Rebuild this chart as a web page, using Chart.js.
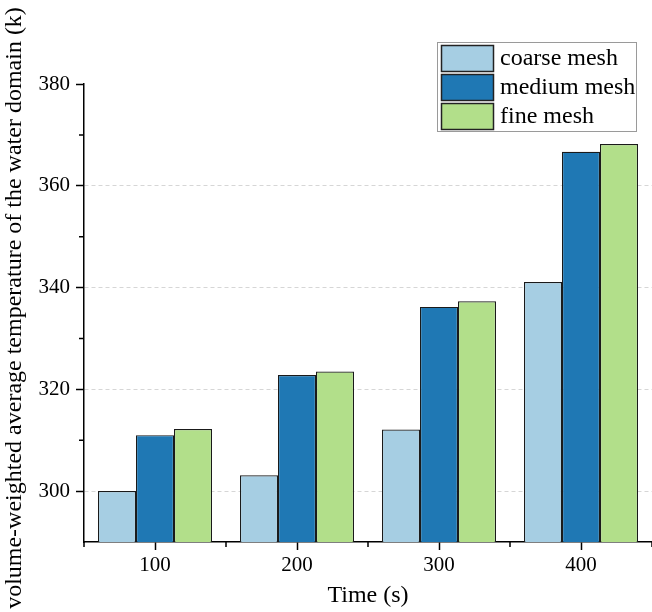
<!DOCTYPE html>
<html>
<head>
<meta charset="utf-8">
<script src="https://cdn.jsdelivr.net/npm/chart.js@4.4.1/dist/chart.umd.min.js"></script>
<style>
    html, body { margin: 0; padding: 0; background: #fff; }
</style>
</head>
<body>
<canvas id="myChart" width="652" height="612"></canvas>
<script>
// Datos
const categories = ['100', '200', '300', '400'];
const seriesNames = ['coarse mesh', 'medium mesh', 'fine mesh'];
const coarseMesh = [300.0, 303.1, 312.1, 341.1];
const mediumMesh = [311.0, 322.8, 336.2, 366.7];
const fineMesh = [312.2, 323.5, 337.3, 368.2];
const seriesColors = ['#a6cee3', '#1f78b4', '#b2df8a'];
const yMin = 290;
const yMax = 380;
const yStep = 20;
const xTitle = 'Time (s)';
const yTitle = 'volume-weighted average temperature of the water domain (k)';

const serif = '"Liberation Serif", "Times New Roman", serif';
Chart.defaults.font.family = serif;
Chart.defaults.color = '#000';

// Marcas menores en los dos ejes
const minorTicks = {
    id: 'minorTicks',
    afterDraw(chart) {
        const ctx = chart.ctx;
        const x = chart.scales.x;
        const y = chart.scales.y;
        ctx.save();
        ctx.strokeStyle = '#000';
        ctx.lineWidth = 1.5;
        ctx.beginPath();
        y.ticks.forEach(t => {
            const v = t.value - yStep / 2;
            if (v <= y.min) return;
            const py = y.getPixelForValue(v);
            ctx.moveTo(y.right - 5, py);
            ctx.lineTo(y.right, py);
        });
        for (let i = 0; i <= categories.length; i++) {
            const px = x.getPixelForValue(i - 0.5);
            ctx.moveTo(px, x.top);
            ctx.lineTo(px, x.top + 5);
        }
        ctx.stroke();
        ctx.restore();
    }
};

// Título del eje Y (sin maxWidth de Chart.js)
const yAxisTitle = {
    id: 'yAxisTitle',
    afterDraw(chart) {
        const ctx = chart.ctx;
        const y = chart.scales.y;
        ctx.save();
        ctx.translate(y.left + 15, (y.top + y.bottom) / 2 - 5);
        ctx.rotate(-Math.PI / 2);
        ctx.font = '24px ' + serif;
        ctx.fillStyle = '#000';
        ctx.textAlign = 'center';
        ctx.textBaseline = 'middle';
        ctx.fillText(yTitle, 0, 0);
        ctx.restore();
    }
};

// Leyenda en caja, arriba a la derecha
const boxLegend = {
    id: 'boxLegend',
    afterDraw(chart) {
        const ctx = chart.ctx;
        const area = chart.chartArea;
        const sets = chart.data.datasets;
        const left = area.right - 215;
        const top = area.top - 42;
        const rowH = 29;
        ctx.save();
        ctx.fillStyle = '#fff';
        ctx.fillRect(left, top, 199, sets.length * rowH + 2);
        ctx.strokeStyle = '#9a9a9a';
        ctx.lineWidth = 1;
        ctx.strokeRect(left + 0.5, top + 0.5, 199, sets.length * rowH + 2);
        ctx.font = '24px ' + serif;
        ctx.textBaseline = 'middle';
        sets.forEach((ds, i) => {
            const sy = top + 3.5 + i * rowH;
            ctx.fillStyle = ds.backgroundColor;
            ctx.fillRect(left + 4.5, sy, 52, 26);
            ctx.strokeStyle = '#222';
            ctx.lineWidth = 1.5;
            ctx.strokeRect(left + 4.5, sy, 52, 26);
            ctx.fillStyle = '#000';
            ctx.fillText(ds.label, left + 63, sy + 13);
        });
        ctx.restore();
    }
};

const ctx = document.getElementById('myChart').getContext('2d');
const myChart = new Chart(ctx, {
    type: 'bar',
    data: {
        labels: categories,
        datasets: [coarseMesh, mediumMesh, fineMesh].map((d, i) => ({
            label: seriesNames[i],
            data: d,
            backgroundColor: seriesColors[i],
            borderColor: '#1a1a1a',
            borderWidth: 1.2,
            barPercentage: 1.0,
            categoryPercentage: 0.803
        }))
    },
    options: {
        responsive: false,
        animation: false,
        layout: { padding: { top: 84, left: 0, right: 0, bottom: 0 } },
        plugins: {
            legend: { display: false },
            tooltip: { enabled: false }
        },
        scales: {
            x: {
                afterFit: scale => { scale.height = 70; },
                grid: {
                    drawOnChartArea: false,
                    offset: false,
                    tickLength: 8,
                    tickWidth: 1.5,
                    tickColor: '#000'
                },
                border: { color: '#000', width: 1.5 },
                ticks: { font: { size: 21 }, padding: 3 },
                title: {
                    display: true,
                    text: xTitle,
                    font: { size: 24 },
                    padding: { top: 0, bottom: 2 }
                }
            },
            y: {
                min: yMin,
                max: yMax,
                afterFit: scale => { scale.width = 84; },
                afterBuildTicks: scale => {
                    scale.ticks = scale.ticks.filter(t => t.value % yStep === 0);
                },
                grid: {
                    color: c => (c.tick && c.tick.value < yMax) ? '#d6d6d6' : 'transparent',
                    lineWidth: 1,
                    tickLength: 8,
                    tickWidth: 1.5,
                    tickColor: '#000'
                },
                border: { color: '#000', width: 1.5, dash: [4, 3] },
                ticks: { stepSize: yStep, font: { size: 21 }, padding: 6 }
            }
        }
    },
    plugins: [minorTicks, yAxisTitle, boxLegend]
});
</script>
</body>
</html>
